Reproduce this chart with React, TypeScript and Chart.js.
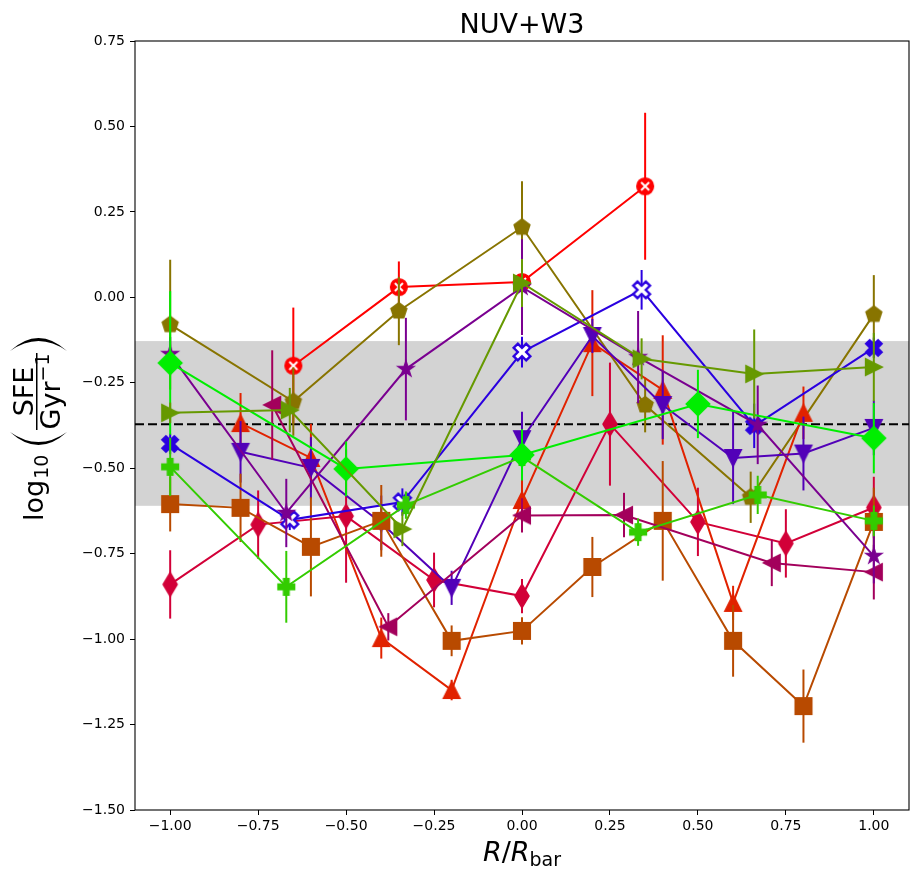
import { useEffect, useRef } from 'react';
import { Chart, registerables } from 'chart.js';

Chart.register(...registerables);

// axis ticks
const xTicks = [-1.0, -0.75, -0.5, -0.25, 0.0, 0.25, 0.5, 0.75, 1.0];
const yTicks = [-1.5, -1.25, -1.0, -0.75, -0.5, -0.25, 0.0, 0.25, 0.5, 0.75];

// shaded band and mean line
const bandLow = -0.61;
const bandHigh = -0.128;
const meanLine = -0.371;

// series (draw order: first = bottom)
const redCircX = [-0.65, -0.35, 0.0, 0.35];
const redCircY = [-0.2, 0.03, 0.045, 0.325];
const redCircErr = [0.17, 0.075, 0.03, 0.215];

const pentX = [-1.0, -0.65, -0.35, 0.0, 0.35, 0.65, 1.0];
const pentY = [-0.08, -0.305, -0.04, 0.205, -0.315, -0.585, -0.05];
const pentErr = [0.19, 0.1, 0.1, 0.135, 0.08, 0.075, 0.115];

const thinDiaX = [-1.0, -0.75, -0.5, -0.25, 0.0, 0.25, 0.5, 0.75, 1.0];
const thinDiaY = [-0.84, -0.665, -0.64, -0.827, -0.874, -0.371, -0.657, -0.72, -0.615];
const thinDiaErr = [0.1, 0.1, 0.195, 0.08, 0.05, 0.18, 0.1, 0.1, 0.09];

const upTriX = [-0.8, -0.6, -0.4, -0.2, 0.0, 0.2, 0.4, 0.6, 0.8];
const upTriY = [-0.368, -0.47, -0.997, -1.149, -0.593, -0.134, -0.271, -0.894, -0.338];
const upTriErr = [0.088, 0.1, 0.06, 0.03, 0.065, 0.155, 0.16, 0.05, 0.077];

const downTriX = [-0.8, -0.6, -0.4, -0.2, 0.0, 0.2, 0.4, 0.6, 0.8, 1.0];
const downTriY = [-0.452, -0.499, -0.66, -0.85, -0.415, -0.113, -0.315, -0.47, -0.457, -0.382];
const downTriErr = [0.09, 0.09, 0.08, 0.05, 0.08, 0.05, 0.1, 0.135, 0.108, 0.08];

const squareX = [-1.0, -0.8, -0.6, -0.4, -0.2, 0.0, 0.2, 0.4, 0.6, 0.8, 1.0];
const squareY = [-0.605, -0.616, -0.73, -0.654, -1.005, -0.976, -0.789, -0.654, -1.005, -1.196, -0.657];
const squareErr = [0.08, 0.1, 0.145, 0.105, 0.045, 0.04, 0.088, 0.175, 0.105, 0.107, 0.1];

const leftTriX = [-0.71, -0.38, 0.0, 0.29, 0.71, 1.0];
const leftTriY = [-0.315, -0.964, -0.638, -0.637, -0.777, -0.804];
const leftTriErr = [0.16, 0.04, 0.05, 0.065, 0.068, 0.08];

const crossX = [-1.0, -0.66, -0.34, 0.0, 0.34, 0.66, 1.0];
const crossY = [-0.429, -0.651, -0.599, -0.16, 0.022, -0.376, -0.148];
const crossErr = [0.03, 0.03, 0.04, 0.045, 0.058, 0.065, 0.03];
const crossOpen = [false, true, true, true, true, false, false];

const starX = [-1.0, -0.67, -0.33, 0.0, 0.33, 0.67, 1.0];
const starY = [-0.166, -0.631, -0.21, 0.03, -0.175, -0.373, -0.757];
const starErr = [0.05, 0.1, 0.15, 0.14, 0.135, 0.115, 0.08];

const plusX = [-1.0, -0.67, -0.33, 0.0, 0.33, 0.67, 1.0];
const plusY = [-0.496, -0.847, -0.608, -0.467, -0.687, -0.578, -0.654];
const plusErr = [0.085, 0.105, 0.04, 0.05, 0.04, 0.056, 0.045];

const diamondX = [-1.0, -0.5, 0.0, 0.5, 1.0];
const diamondY = [-0.192, -0.502, -0.461, -0.312, -0.412];
const diamondErr = [0.21, 0.08, 0.075, 0.1, 0.103];

const rightTriX = [-1.0, -0.66, -0.34, 0.0, 0.34, 0.66, 1.0];
const rightTriY = [-0.338, -0.33, -0.678, 0.042, -0.18, -0.224, -0.204];
const rightTriErr = [0.03, 0.065, 0.05, 0.07, 0.06, 0.13, 0.1];

type Shape =
  | 'circleX' | 'pentagon' | 'thinDiamond' | 'triUp' | 'triDown' | 'triLeft'
  | 'triRight' | 'square' | 'xFilled' | 'star' | 'plusFilled' | 'diamond';

const series: { x: number[]; y: number[]; err: number[]; color: string; shape: Shape; open?: boolean[] }[] = [
  { x: redCircX, y: redCircY, err: redCircErr, color: '#ff0000', shape: 'circleX' },
  { x: pentX, y: pentY, err: pentErr, color: '#887400', shape: 'pentagon' },
  { x: thinDiaX, y: thinDiaY, err: thinDiaErr, color: '#d20038', shape: 'thinDiamond' },
  { x: upTriX, y: upTriY, err: upTriErr, color: '#e12200', shape: 'triUp' },
  { x: downTriX, y: downTriY, err: downTriErr, color: '#5200b8', shape: 'triDown' },
  { x: squareX, y: squareY, err: squareErr, color: '#b84a00', shape: 'square' },
  { x: leftTriX, y: leftTriY, err: leftTriErr, color: '#a3005c', shape: 'triLeft' },
  { x: crossX, y: crossY, err: crossErr, color: '#2a00e0', shape: 'xFilled', open: crossOpen },
  { x: starX, y: starY, err: starErr, color: '#7a0090', shape: 'star' },
  { x: plusX, y: plusY, err: plusErr, color: '#33cc00', shape: 'plusFilled' },
  { x: diamondX, y: diamondY, err: diamondErr, color: '#00ee00', shape: 'diamond' },
  { x: rightTriX, y: rightTriY, err: rightTriErr, color: '#669900', shape: 'triRight' },
];

const MS = 16.7; // marker size, px
const FONT = "'DejaVu Sans'";

function shapePath(ctx: CanvasRenderingContext2D, shape: Shape) {
  const h = MS / 2;
  const d = MS * Math.SQRT1_2;
  const poly = (pts: number[][]) => {
    ctx.beginPath();
    pts.forEach(([a, b], i) => (i ? ctx.lineTo(a, b) : ctx.moveTo(a, b)));
    ctx.closePath();
  };
  switch (shape) {
    case 'circleX':
      ctx.beginPath();
      ctx.arc(0, 0, h, 0, Math.PI * 2);
      break;
    case 'square': poly([[-h, -h], [h, -h], [h, h], [-h, h]]); break;
    case 'triUp': poly([[0, -h], [h, h], [-h, h]]); break;
    case 'triDown': poly([[0, h], [-h, -h], [h, -h]]); break;
    case 'triLeft': poly([[-h, 0], [h, -h], [h, h]]); break;
    case 'triRight': poly([[h, 0], [-h, h], [-h, -h]]); break;
    case 'pentagon':
      poly(Array.from({ length: 5 }, (_, k) => {
        const a = -Math.PI / 2 + (k * 2 * Math.PI) / 5;
        return [h * Math.cos(a), h * Math.sin(a)];
      }));
      break;
    case 'star':
      poly(Array.from({ length: 10 }, (_, k) => {
        const a = -Math.PI / 2 + (k * Math.PI) / 5;
        const r = k % 2 ? h * 0.381966 : h;
        return [r * Math.cos(a), r * Math.sin(a)];
      }));
      break;
    case 'diamond': poly([[0, -d], [d, 0], [0, d], [-d, 0]]); break;
    case 'thinDiamond': poly([[0, -d], [0.6 * d, 0], [0, d], [-0.6 * d, 0]]); break;
    case 'plusFilled':
      poly([[-1, -3], [1, -3], [1, -1], [3, -1], [3, 1], [1, 1], [1, 3], [-1, 3], [-1, 1], [-3, 1], [-3, -1], [-1, -1]]
        .map(([a, b]) => [(a * MS) / 6, (b * MS) / 6]));
      break;
    case 'xFilled':
      poly([[-1, -2], [0, -1], [1, -2], [2, -1], [1, 0], [2, 1], [1, 2], [0, 1], [-1, 2], [-2, 1], [-1, 0], [-2, -1]]
        .map(([a, b]) => [(a * MS) / 4, (b * MS) / 4]));
      break;
  }
}

function makeMarker(shape: Shape, color: string, open = false) {
  const c = document.createElement('canvas');
  c.width = 32;
  c.height = 32;
  const ctx = c.getContext('2d')!;
  ctx.translate(16, 16);
  shapePath(ctx, shape);
  ctx.fillStyle = open ? '#ffffff' : color;
  ctx.fill();
  ctx.strokeStyle = color;
  ctx.lineWidth = open ? 2.4 : 1.4;
  ctx.lineJoin = 'miter';
  ctx.stroke();
  if (shape === 'circleX') {
    ctx.strokeStyle = '#ffffff';
    ctx.lineWidth = 2;
    ctx.beginPath();
    ctx.moveTo(-4, -4); ctx.lineTo(4, 4);
    ctx.moveTo(4, -4); ctx.lineTo(-4, 4);
    ctx.stroke();
  }
  return c;
}

const fmt = (v: number) => v.toFixed(2).replace('-', '\u2212');

const errorBars = {
  id: 'errorBars',
  beforeDatasetDraw(chart: any, args: any) {
    const ds = chart.data.datasets[args.index];
    if (!ds.errs) return;
    const { ctx, chartArea: ca, scales } = chart;
    ctx.save();
    ctx.beginPath();
    ctx.rect(ca.left, ca.top, ca.right - ca.left, ca.bottom - ca.top);
    ctx.clip();
    ctx.strokeStyle = ds.borderColor;
    ctx.lineWidth = 2;
    ds.data.forEach((p: any, i: number) => {
      const px = scales.x.getPixelForValue(p.x);
      ctx.beginPath();
      ctx.moveTo(px, scales.y.getPixelForValue(p.y - ds.errs[i]));
      ctx.lineTo(px, scales.y.getPixelForValue(p.y + ds.errs[i]));
      ctx.stroke();
    });
    ctx.restore();
  },
};

const backdrop = {
  id: 'backdrop',
  beforeDatasetsDraw(chart: any) {
    const { ctx, chartArea: ca, scales } = chart;
    const y = scales.y;
    ctx.save();
    ctx.fillStyle = '#d3d3d3';
    const top = y.getPixelForValue(bandHigh);
    ctx.fillRect(ca.left, top, ca.right - ca.left, y.getPixelForValue(bandLow) - top);
    ctx.strokeStyle = '#000';
    ctx.lineWidth = 2;
    ctx.setLineDash([9, 4]);
    ctx.beginPath();
    const ym = y.getPixelForValue(meanLine);
    ctx.moveTo(ca.left, ym);
    ctx.lineTo(ca.right, ym);
    ctx.stroke();
    ctx.restore();
  },
};

const frameAndLabels = {
  id: 'frameAndLabels',
  afterDatasetsDraw(chart: any) {
    const { ctx, chartArea: ca } = chart;
    ctx.save();
    ctx.strokeStyle = '#000';
    ctx.lineWidth = 1.1;
    ctx.strokeRect(ca.left, ca.top, ca.right - ca.left, ca.bottom - ca.top);
    ctx.restore();
  },
  afterDraw(chart: any) {
    const { ctx, chartArea: ca } = chart;
    const cx = (ca.left + ca.right) / 2;
    ctx.save();
    ctx.fillStyle = '#000';
    ctx.textBaseline = 'alphabetic';

    // title
    ctx.font = `27px ${FONT}`;
    ctx.textAlign = 'center';
    ctx.fillText('NUV+W3', cx, 33);

    // x label: R/R_bar
    ctx.textAlign = 'left';
    const it = `italic 27px ${FONT}`;
    const rm = `27px ${FONT}`;
    const sm = `19px ${FONT}`;
    ctx.font = it; const wR = ctx.measureText('R').width;
    ctx.font = rm; const wS = ctx.measureText('/').width;
    ctx.font = sm; const wB = ctx.measureText('bar').width;
    let x0 = cx - (2 * wR + wS + wB) / 2;
    ctx.font = it; ctx.fillText('R', x0, 861); x0 += wR;
    ctx.font = rm; ctx.fillText('/', x0, 861); x0 += wS;
    ctx.font = it; ctx.fillText('R', x0, 861); x0 += wR;
    ctx.font = sm; ctx.fillText('bar', x0, 866);

    // y label, rotated: (u, v) -> screen (v, -u)
    ctx.rotate(-Math.PI / 2);
    ctx.font = rm;
    let u = -521;
    ctx.fillText('log', u, 43);
    u += ctx.measureText('log').width;
    ctx.font = sm;
    ctx.fillText('10', u + 1, 48);

    const paren = (uTip: number, uBulge: number) => {
      const v0 = 10, v1 = 67, vm = (v0 + v1) / 2;
      const inner = uBulge + Math.sign(uTip - uBulge) * 3;
      ctx.beginPath();
      ctx.moveTo(uTip, v0);
      ctx.quadraticCurveTo(2 * uBulge - uTip, vm, uTip, v1);
      ctx.quadraticCurveTo(2 * inner - uTip, vm, uTip, v0);
      ctx.closePath();
      ctx.fill();
    };
    paren(-432, -445);
    paren(-351, -338);

    // fraction
    ctx.fillRect(-430, 36, 77, 1.5);
    ctx.font = rm;
    ctx.textAlign = 'center';
    ctx.fillText('SFE', -391.5, 33);
    ctx.textAlign = 'left';
    const wG = ctx.measureText('Gyr').width;
    ctx.font = sm;
    const wM = ctx.measureText('\u22121').width;
    let ud = -391.5 - (wG + wM) / 2;
    ctx.font = rm;
    ctx.fillText('Gyr', ud, 60);
    ud += wG;
    ctx.font = sm;
    ctx.fillText('\u22121', ud, 49);
    ctx.restore();
  },
};

export default function App() {
  const canvasRef = useRef<HTMLCanvasElement>(null);
  const chartRef = useRef<Chart | null>(null);

  useEffect(() => {
    if (!canvasRef.current) return;
    chartRef.current?.destroy();

    const datasets: any[] = series.map((s, i) => ({
      data: s.x.map((xv, j) => ({ x: xv, y: s.y[j] })),
      errs: s.err,
      showLine: true,
      borderColor: s.color,
      backgroundColor: s.color,
      borderWidth: 2,
      tension: 0,
      pointStyle: s.x.map((_, j) => makeMarker(s.shape, s.color, s.open ? s.open[j] : false)),
      pointRadius: 8,
      pointHoverRadius: 8,
      order: series.length - i,
    }));

    const tickFont = { family: FONT, size: 14 };

    chartRef.current = new Chart(canvasRef.current, {
      type: 'scatter',
      data: { datasets },
      options: {
        responsive: false,
        animation: false,
        events: [],
        layout: { padding: { left: 0, right: 13, top: 41, bottom: 0 } },
        plugins: {
          legend: { display: false },
          tooltip: { enabled: false },
          title: { display: false },
        },
        scales: {
          x: {
            type: 'linear',
            min: -1.1,
            max: 1.1,
            afterBuildTicks: (axis: any) => {
              axis.ticks = xTicks.map((v) => ({ value: v }));
            },
            afterFit: (axis: any) => {
              axis.height = 69;
            },
            ticks: {
              callback: (v: any) => fmt(Number(v)),
              font: tickFont,
              color: '#000',
              padding: 3,
              maxRotation: 0,
              autoSkip: false,
            },
            grid: { display: true, drawOnChartArea: false, drawTicks: true, tickLength: 5, color: '#000' },
            border: { display: false },
          },
          y: {
            type: 'linear',
            min: -1.5,
            max: 0.75,
            afterBuildTicks: (axis: any) => {
              axis.ticks = yTicks.map((v) => ({ value: v }));
            },
            afterFit: (axis: any) => {
              axis.width = 135;
            },
            ticks: {
              callback: (v: any) => fmt(Number(v)),
              font: tickFont,
              color: '#000',
              padding: 5,
              autoSkip: false,
            },
            grid: { display: true, drawOnChartArea: false, drawTicks: true, tickLength: 5, color: '#000' },
            border: { display: false },
          },
        },
      } as any,
      plugins: [backdrop, errorBars, frameAndLabels],
    });

    return () => {
      chartRef.current?.destroy();
      chartRef.current = null;
    };
  }, []);

  return (
    <div style={{ position: 'fixed', left: 0, top: 0, width: 922, height: 879, background: '#fff' }}>
      <canvas ref={canvasRef} width={922} height={879} style={{ width: 922, height: 879 }} />
    </div>
  );
}
